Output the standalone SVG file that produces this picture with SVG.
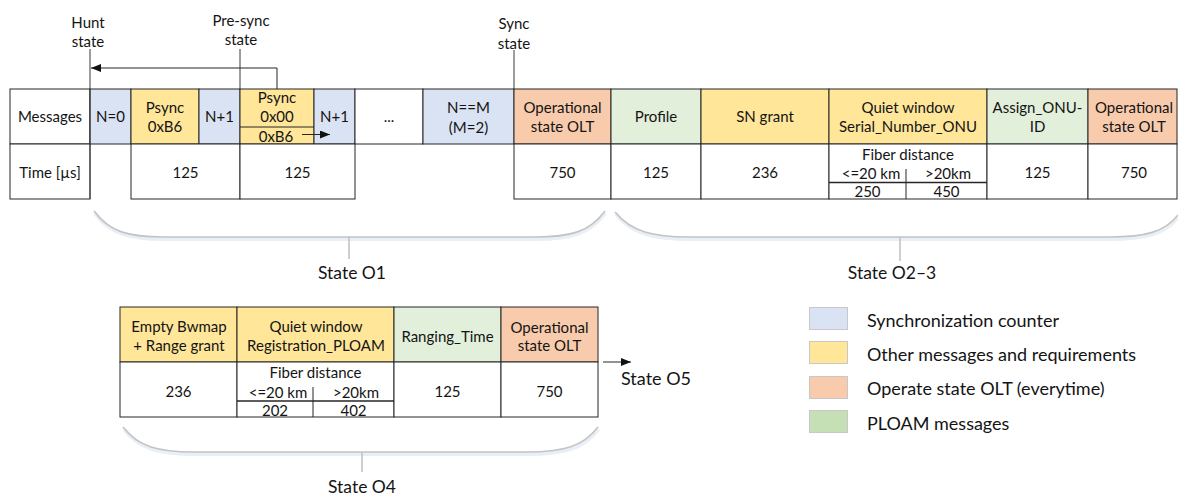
<svg xmlns="http://www.w3.org/2000/svg" width="1178" height="495" viewBox="0 0 1178 495">
<style>
.c{stroke:#262626;stroke-width:1;}
.w{fill:#ffffff;}
.b{fill:#dae3f3;}
.y{fill:#ffe699;}
.o{fill:#f8cbad;}
.g{fill:#e2efda;}
text{font-family:Lato,"Liberation Sans",sans-serif;fill:#141414;}
.t{font-size:15px;text-anchor:middle;dominant-baseline:central;}
.l{font-size:18px;dominant-baseline:central;}
.s{font-size:17.5px;text-anchor:middle;dominant-baseline:central;}
.ln{stroke:#262626;stroke-width:1;fill:none;}
.vl{stroke:#3a3a3a;stroke-width:1;fill:none;}
.br{stroke:#c4c4c4;stroke-width:1.6;fill:none;}
.bs{stroke:#e9eff7;stroke-width:4;fill:none;}
.lg{stroke:#c8c8c8;stroke-width:1;}
</style>
<defs>
<marker id="ah" markerUnits="userSpaceOnUse" markerWidth="10" markerHeight="8" refX="10" refY="4" orient="auto">
<path d="M0,0 L10,4 L0,8 Z" fill="#111"/>
</marker>
</defs>

<!-- top table header row -->
<g id="messages"><rect class="c w" x="10" y="89" width="80" height="55"/><text class="t" x="50" y="116">Messages</text></g>
<g id="n0"><rect class="c b" x="90" y="89" width="41" height="55"/><text class="t" x="110.5" y="116">N=0</text></g>
<g id="psync-b6"><rect class="c y" x="131" y="89" width="68" height="55"/><text class="t" x="165" y="107">Psync</text><text class="t" x="165" y="126">0xB6</text></g>
<g id="n1a"><rect class="c b" x="199" y="89" width="41" height="55"/><text class="t" x="219.5" y="116">N+1</text></g>
<g id="psync-00"><rect class="c y" x="240" y="89" width="74" height="55"/><line class="ln" x1="240" y1="127" x2="314" y2="127"/><text class="t" x="277" y="97">Psync</text><text class="t" x="277" y="116">0x00</text><text class="t" x="276" y="136">0xB6</text></g>
<g id="n1b"><rect class="c b" x="314" y="89" width="41" height="55"/><text class="t" x="334.5" y="116">N+1</text></g>
<g id="dots"><rect class="c w" x="355" y="89" width="68" height="55"/><text class="t" x="389" y="116">...</text></g>
<g id="nm"><rect class="c b" x="423" y="89" width="91" height="55"/><text class="t" x="468.5" y="107">N==M</text><text class="t" x="468.5" y="127">(M=2)</text></g>
<g id="op1"><rect class="c o" x="514" y="89" width="97" height="55"/><text class="t" x="562.5" y="107">Operational</text><text class="t" x="562.5" y="126">state OLT</text></g>
<g id="profile"><rect class="c g" x="611" y="89" width="90" height="55"/><text class="t" x="656" y="116">Profile</text></g>
<g id="sngrant"><rect class="c y" x="701" y="89" width="128" height="55"/><text class="t" x="765" y="116">SN grant</text></g>
<g id="quiet1"><rect class="c y" x="829" y="89" width="158" height="55"/><text class="t" x="908" y="107">Quiet window</text><text class="t" x="908" y="126">Serial_Number_ONU</text></g>
<g id="assign"><rect class="c g" x="987" y="89" width="101" height="55"/><text class="t" x="1037.5" y="107">Assign_ONU-</text><text class="t" x="1037.5" y="126">ID</text></g>
<g id="op2"><rect class="c o" x="1088" y="89" width="89" height="55"/><text class="t" x="1134" y="107">Operational</text><text class="t" x="1134" y="126">state OLT</text></g>

<!-- top table time row -->
<g id="time-label"><rect class="c w" x="10" y="144" width="80" height="55"/><text class="t" x="50" y="172">Time [µs]</text></g>
<g id="t125a"><rect class="c w" x="131" y="144" width="109" height="55"/><text class="t" x="185.5" y="172">125</text></g>
<g id="t125b"><rect class="c w" x="240" y="144" width="115" height="55"/><text class="t" x="297.5" y="172">125</text></g>
<g id="t750a"><rect class="c w" x="514" y="144" width="97" height="55"/><text class="t" x="562.5" y="172">750</text></g>
<g id="t125c"><rect class="c w" x="611" y="144" width="90" height="55"/><text class="t" x="656" y="172">125</text></g>
<g id="t236a"><rect class="c w" x="701" y="144" width="128" height="55"/><text class="t" x="765" y="172">236</text></g>
<g id="tfiber1"><rect class="c w" x="829" y="144" width="158" height="55"/>
<text class="t" x="908" y="154">Fiber distance</text>
<text class="t" x="871" y="173">&lt;=20 km</text><text class="t" x="948" y="173">&gt;20km</text>
<line class="ln" x1="906" y1="169" x2="906" y2="199"/>
<line class="ln" x1="829" y1="182.5" x2="987" y2="182.5" style="stroke-width:1.6"/>
<text class="t" x="867.5" y="191">250</text><text class="t" x="946.5" y="191">450</text></g>
<g id="t125d"><rect class="c w" x="987" y="144" width="101" height="55"/><text class="t" x="1037.5" y="172">125</text></g>
<g id="t750b"><rect class="c w" x="1088" y="144" width="89" height="55"/><text class="t" x="1134" y="172">750</text></g>

<!-- state markers -->
<g id="hunt"><text class="t" x="88" y="22">Hunt</text><text class="t" x="88" y="41">state</text></g>
<g id="presync"><text class="t" x="241" y="20">Pre-sync</text><text class="t" x="241" y="39">state</text></g>
<g id="sync"><text class="t" x="514" y="23">Sync</text><text class="t" x="514" y="43">state</text></g>

<!-- bottom table -->
<g id="emptybw"><rect class="c y" x="120" y="307" width="117" height="55"/><text class="t" x="179" y="326">Empty Bwmap</text><text class="t" x="179" y="345">+ Range grant</text></g>
<g id="quiet2"><rect class="c y" x="237" y="307" width="157" height="55"/><text class="t" x="316" y="326">Quiet window</text><text class="t" x="316" y="345">Registration_PLOAM</text></g>
<g id="ranging"><rect class="c g" x="394" y="307" width="107" height="55"/><text class="t" x="447.5" y="336">Ranging_Time</text></g>
<g id="op3"><rect class="c o" x="501" y="307" width="97" height="55"/><text class="t" x="549.5" y="327">Operational</text><text class="t" x="549.5" y="345">state OLT</text></g>
<g id="t236b"><rect class="c w" x="120" y="362" width="117" height="55"/><text class="t" x="178.5" y="391">236</text></g>
<g id="tfiber2"><rect class="c w" x="237" y="362" width="157" height="55"/>
<text class="t" x="315.5" y="372">Fiber distance</text>
<text class="t" x="278" y="392">&lt;=20 km</text><text class="t" x="356" y="392">&gt;20km</text>
<line class="ln" x1="313" y1="387" x2="313" y2="417"/>
<line class="ln" x1="237" y1="401" x2="394" y2="401" style="stroke-width:1.6"/>
<text class="t" x="275" y="410">202</text><text class="t" x="353.5" y="410">402</text></g>
<g id="t125e"><rect class="c w" x="394" y="362" width="107" height="55"/><text class="t" x="447.5" y="391">125</text></g>
<g id="t750c"><rect class="c w" x="501" y="362" width="97" height="55"/><text class="t" x="549.5" y="391">750</text></g>
<g id="o5"><text class="l" x="621" y="378">State O5</text></g>

<!-- state labels -->
<g id="o1"><text class="s" x="352" y="272">State O1</text></g>
<g id="o23"><text class="s" x="892" y="272">State O2–3</text></g>
<g id="o4"><text class="s" x="362" y="486">State O4</text></g>

<!-- legend -->
<g id="legend">
<rect class="lg b" x="809.5" y="307.5" width="38" height="22"/><text class="l" x="867" y="320">Synchronization counter</text>
<rect class="lg y" x="809.5" y="341.5" width="38" height="22"/><text class="l" x="867" y="354">Other messages and requirements</text>
<rect class="lg o" x="809.5" y="376.5" width="38" height="22"/><text class="l" x="867" y="388">Operate state OLT (everytime)</text>
<rect class="lg" x="809.5" y="410.5" width="38" height="22" style="fill:#c5e0b4"/><text class="l" x="867" y="423">PLOAM messages</text>
</g>

<!-- connectors -->
<g id="connectors">
<line class="vl" x1="90" y1="49" x2="90" y2="199"/>
<line class="vl" x1="240" y1="49" x2="240" y2="89"/>
<line class="vl" x1="514" y1="50" x2="514" y2="89"/>
<path class="ln" d="M277,89 V68 H91" marker-end="url(#ah)"/>
<line class="ln" x1="302" y1="134.5" x2="330" y2="134.5" marker-end="url(#ah)"/>
<line class="ln" x1="603" y1="362" x2="631" y2="362" marker-end="url(#ah)"/>
<path class="bs" d="M95,213 C110,234 130,239 165,239 L535,239 C570,239 590,234 605,213"/>
<path class="br" d="M94,211 C109,232 129,237 164,237 L535,237 C570,237 590,232 605,211 M349,237 V259"/>
<path class="bs" d="M616,214 C632,234 655,239 690,239 L1110,239 C1145,239 1165,234 1178,217"/>
<path class="br" d="M615,212 C631,232 654,237 689,237 L1110,237 C1145,237 1165,232 1178,215 M900,237 V261"/>
<path class="bs" d="M124,429 C139,449 160,454 195,454 L527,454 C562,454 584,449 598,429"/>
<path class="br" d="M123,427 C138,447 159,452 194,452 L527,452 C562,452 583,447 598,427 M362,452 V472"/>
</g>
</svg>
